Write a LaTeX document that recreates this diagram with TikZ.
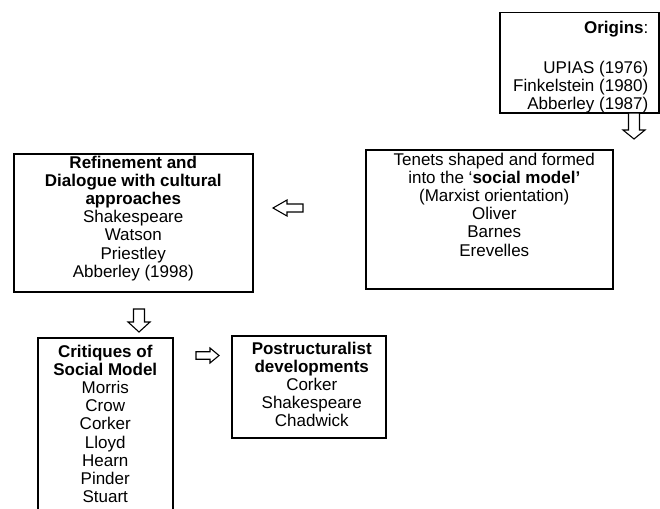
\documentclass[tikz,border=0pt]{standalone}
\usepackage{fontspec}
\setmainfont{Liberation Sans}
\usetikzlibrary{positioning}

% hollow block arrow: tail point, angle, length, half head width, head length
\newcommand{\openarrow}[5]{%
    \draw[hollow, shift={#1}, rotate=#2]
        (0,{-#4/2}) -- ({#3-#5},{-#4/2}) -- ({#3-#5},-#4) -- (#3,0)
        -- ({#3-#5},#4) -- ({#3-#5},{#4/2}) -- (0,{#4/2}) -- cycle;}

\begin{document}
\begin{tikzpicture}[
            x=1pt, y=-1pt,
            box/.style={draw, line width=1.5pt, inner sep=0pt, anchor=north west},
            boxtext/.style={anchor=north, inner sep=0pt, align=center,
                font=\fontsize{17}{18.2}\selectfont},
            hollow/.style={draw, line width=1.1pt, fill=white, line join=miter}
        ]
        \clip (0,0) rectangle (660,508);
        \fill[white] (0,0) rectangle (660,508);

        % boxes
        \node[box, minimum width=159pt, minimum height=100pt] (origins) at (499,12) {};
        \node[box, minimum width=247pt, minimum height=139pt] (tenets) at (365,149) {};
        \node[box, minimum width=239pt, minimum height=138pt] (refine) at (13,153) {};
        \node[box, minimum width=135pt, minimum height=190pt] (critiques) at (37,337) {};
        \node[box, minimum width=154pt, minimum height=102pt] (post) at (231,335) {};

        % texts
        \node[boxtext, align=right, anchor=north east] (origins text)
            at ([xshift=-11pt, yshift=-8.6pt]origins.north east)
            {\textbf{Origins}:\\[22pt]UPIAS (1976)\\Finkelstein (1980)\\Abberley (1987)};
        \node[boxtext] (tenets text) at ([xshift=5pt, yshift=-3.6pt]tenets.north)
            {Tenets shaped and formed\\into the `\textbf{social model'}\\(Marxist orientation)\\Oliver\\Barnes\\Erevelles};
        \node[boxtext] (refine text) at ([yshift=-2.6pt]refine.north)
            {\textbf{Refinement and}\\\textbf{Dialogue with cultural}\\\textbf{approaches}\\Shakespeare\\Watson\\Priestley\\Abberley (1998)};
        \node[boxtext] (critiques text) at ([yshift=-7.6pt]critiques.north)
            {\textbf{Critiques of}\\\textbf{Social Model}\\Morris\\Crow\\Corker\\Lloyd\\Hearn\\Pinder\\Stuart};
        \node[boxtext] (post text) at ([xshift=3pt, yshift=-6.6pt]post.north)
            {\textbf{Postructuralist}\\\textbf{developments}\\Corker\\Shakespeare\\Chadwick};

        % arrows
        \coordinate (origins arrow) at (634,113);
        \coordinate (tenets arrow) at (303,208);
        \coordinate (refine arrow) at (139,309);
        \coordinate (critiques arrow) at (196,355.5);
        \openarrow{(origins arrow)}{-90}{26}{11}{9}
        \openarrow{(tenets arrow)}{180}{30}{8}{14}
        \openarrow{(refine arrow)}{-90}{23}{11}{10}
        \openarrow{(critiques arrow)}{0}{23}{7.5}{9}
    \end{tikzpicture}
\end{document}
